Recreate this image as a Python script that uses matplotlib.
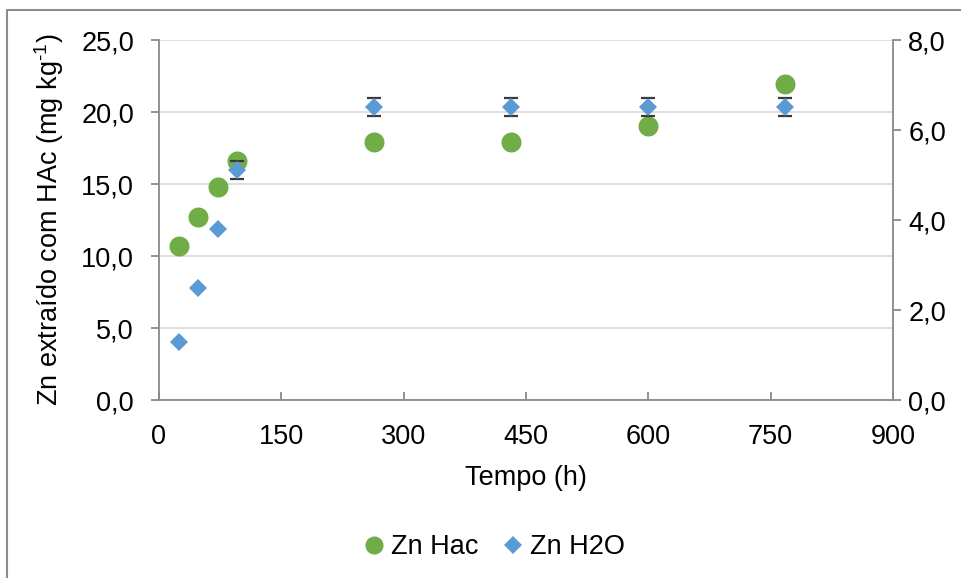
import matplotlib
matplotlib.use("Agg")
import matplotlib.pyplot as plt
from matplotlib.lines import Line2D

# ---- data ----
tempo_h = [24, 48, 72, 96, 264, 432, 600, 768]
zn_hac = [10.7, 12.7, 14.8, 16.6, 17.9, 17.9, 19.0, 21.95]
zn_h2o = [1.28, 2.48, 3.79, 5.11, 6.52, 6.52, 6.52, 6.52]
zn_h2o_err = [0.0, 0.0, 0.0, 0.19, 0.2, 0.2, 0.2, 0.2]

x_ticks = [0, 150, 300, 450, 600, 750, 900]
y_left_ticks = [0, 5, 10, 15, 20, 25]
y_left_labels = ["0,0", "5,0", "10,0", "15,0", "20,0", "25,0"]
y_right_ticks = [0, 2, 4, 6, 8]
y_right_labels = ["0,0", "2,0", "4,0", "6,0", "8,0"]

plt.rcParams['font.family'] = ['Liberation Sans', 'DejaVu Sans']
plt.rcParams['mathtext.fontset'] = 'custom'
plt.rcParams['mathtext.rm'] = 'Liberation Sans'
plt.rcParams['mathtext.it'] = 'Liberation Sans'
FS = 19.5
axis_col = '#898989'
grid_col = '#d9d9d9'
green = '#70AD47'
blue = '#5B9BD5'

fig = plt.figure(figsize=(9.61, 5.78), dpi=100)
ax = fig.add_axes([159/961, 1-400/578, (893-159)/961, 360/578])
ax2 = ax.twinx()

ax.set_xlim(0, 900)
ax.set_ylim(0, 25)
ax2.set_ylim(0, 8)

ax.set_xticks(x_ticks)
ax.set_xticklabels([str(t) for t in x_ticks])
ax.set_yticks(y_left_ticks)
ax.set_yticklabels(y_left_labels)
ax2.set_yticks(y_right_ticks)
ax2.set_yticklabels(y_right_labels)

ax.grid(axis='y', color=grid_col, linewidth=1.2, zorder=0)
ax.set_axisbelow(True)

for a in (ax, ax2):
    a.spines['top'].set_visible(False)
    for s in ('left', 'right', 'bottom'):
        a.spines[s].set_color(axis_col)
        a.spines[s].set_linewidth(1.3)
ax.spines['right'].set_visible(False)
ax2.spines['left'].set_visible(False)
ax2.spines['bottom'].set_visible(False)

ax.tick_params(axis='x', direction='in', length=6, width=1.3, color=axis_col,
               labelsize=FS, pad=17)
ax.tick_params(axis='y', direction='out', length=6, width=1.3, color=axis_col,
               labelsize=FS, pad=12)
ax2.tick_params(axis='y', direction='out', length=6, width=1.3, color=axis_col,
                labelsize=FS, pad=5)

ax.plot(tempo_h, zn_hac, linestyle='none', marker='o', markersize=14.4,
        color=green, markeredgewidth=0, zorder=3, label='Zn Hac')
err_idx = [i for i, e in enumerate(zn_h2o_err) if e > 0]
ax2.errorbar([tempo_h[i] for i in err_idx], [zn_h2o[i] for i in err_idx],
             yerr=[zn_h2o_err[i] for i in err_idx], fmt='none', ecolor='#3a3a3a',
             elinewidth=1.2, capsize=4.7, capthick=1.6, zorder=3)
ax2.plot(tempo_h, zn_h2o, linestyle='none', marker='D', markersize=9.2,
         color=blue, markeredgewidth=0, zorder=4, label='Zn H2O')

ax.set_xlabel('Tempo (h)', fontsize=FS)
ax.xaxis.set_label_coords(0.5, -0.18)
ax.xaxis.label.set_va('top')
ax.set_ylabel(r'Zn extraído com HAc (mg kg$^{\text{-}1}$)', fontsize=FS)
ax.yaxis.set_label_coords(-0.127, 0.5)

handles = [Line2D([], [], linestyle='none', marker='o', markersize=13,
                  color=green, markeredgewidth=0),
           Line2D([], [], linestyle='none', marker='D', markersize=9,
                  color=blue, markeredgewidth=0)]
fig.legend(handles, ['Zn Hac', 'Zn H2O'], loc='center',
           bbox_to_anchor=(494/961, 1-547/578), ncol=2, frameon=False,
           fontsize=FS, handlelength=0.8, handletextpad=0.2,
           columnspacing=0.9, borderaxespad=0)

# chart frame (visible on left and top)
fig.add_artist(Line2D([7/961, 7/961, 1.0], [0.0, 1-10/578, 1-10/578],
                      transform=fig.transFigure, color='#8c8c8c', linewidth=1.5))

fig.savefig('out.png', dpi=100)
